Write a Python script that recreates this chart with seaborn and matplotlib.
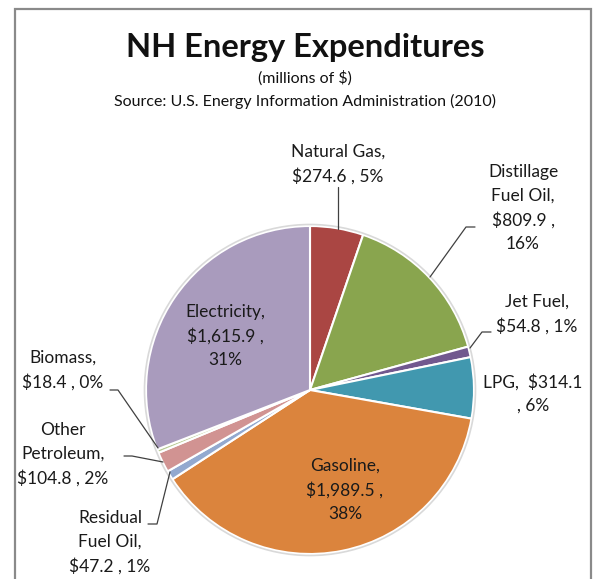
"""
NH Energy Expenditures pie chart (EIA 2010)
"""

import matplotlib
matplotlib.use("Agg")
import matplotlib.pyplot as plt
import seaborn as sns
from matplotlib.patches import Rectangle

sns.set_theme(style="white")
plt.rcParams['font.family'] = ['Lato', 'DejaVu Sans']

# Data (millions of $), clockwise from 12 o'clock
categories = ['Natural Gas', 'Distillage Fuel Oil', 'Jet Fuel', 'LPG', 'Gasoline',
              'Residual Fuel Oil', 'Other Petroleum', 'Biomass', 'Electricity']
values = [274.6, 809.9, 54.8, 314.1, 1989.5, 47.2, 104.8, 18.4, 1615.9]
value_labels = ['$274.6', '$809.9', '$54.8', '$314.1', '$1,989.5',
                '$47.2', '$104.8', '$18.4', '$1,615.9']
pct_labels = ['5%', '16%', '1%', '6%', '38%', '1%', '2%', '0%', '31%']

colors = ['#AA4643', '#89A54E', '#71588F', '#4198AF', '#DB843D',
          '#93A9CF', '#D19392', '#B9CD96', '#A99BBD']

W, H = 595, 579
fig = plt.figure(figsize=(W / 100, H / 100), dpi=100)
ax = fig.add_axes([0, 0, 1, 1])

def Y(y):
    # image pixel row -> axes y
    return H - y

# frame around the chart
fig.patches.append(Rectangle((15, Y(600)), 576, 591, transform=ax.transData,
                             fill=False, edgecolor='#8a8a8a', linewidth=1.6))

# pie
cx, cy, r = 310, 390, 164
ax.pie(values, colors=colors, startangle=90, counterclock=False,
       center=(cx, Y(cy)), radius=r, frame=True,
       wedgeprops=dict(edgecolor='white', linewidth=1.5))
ax.add_patch(plt.Circle((cx, Y(cy)), r + 1.5, fill=False, edgecolor='#d9d9d9', linewidth=1.2))
ax.set_xlim(0, W)
ax.set_ylim(0, H)
ax.axis('off')

# titles
ax.text(305, Y(47), 'NH Energy Expenditures', ha='center', va='center',
        fontsize=23.5, fontweight='bold', color='#111111')
ax.text(305, Y(78), '(millions of $)', ha='center', va='center', fontsize=11.5, color='#111111')
ax.text(305, Y(101), 'Source: U.S. Energy Information Administration (2010)',
        ha='center', va='center', fontsize=11.5, color='#111111')

# label text lines, positions (x, first line y) and leader lines
label_lines = {
    'Natural Gas': ['Natural Gas,', '{v} , {p}'],
    'Distillage Fuel Oil': ['Distillage', 'Fuel Oil,', '{v} ,', '{p}'],
    'Jet Fuel': ['Jet Fuel,', '{v} , {p}'],
    'LPG': ['LPG,  {v}', ', {p}'],
    'Gasoline': ['Gasoline,', '{v} ,', '{p}'],
    'Residual Fuel Oil': ['Residual', 'Fuel Oil,', '{v} , {p}'],
    'Other Petroleum': ['Other', 'Petroleum,', '{v} , {p}'],
    'Biomass': ['Biomass,', '{v} , {p}'],
    'Electricity': ['Electricity,', '{v} ,', '{p}'],
}
label_pos = {
    'Natural Gas': (338, 152),
    'Distillage Fuel Oil': (523, 172),
    'Jet Fuel': (537, 302),
    'LPG': (533, 382),
    'Gasoline': (345, 466),
    'Residual Fuel Oil': (110, 518),
    'Other Petroleum': (63, 430),
    'Biomass': (63, 358),
    'Electricity': (225, 312),
}
leaders = {
    'Natural Gas': [(338, 187), (338, 229)],
    'Distillage Fuel Oil': [(475, 227), (466, 227), (430, 277)],
    'Jet Fuel': [(491, 332), (482, 332), (470, 348)],
    'Biomass': [(110, 390), (118, 390), (158, 448)],
    'Other Petroleum': [(124, 456), (132, 456), (163, 462)],
    'Residual Fuel Oil': [(148, 524), (157, 524), (170, 472)],
}
line_h = 24

for cat, v, p in zip(categories, value_labels, pct_labels):
    x, y0 = label_pos[cat]
    for i, line in enumerate(label_lines[cat]):
        ax.text(x, Y(y0 + i * line_h), line.format(v=v, p=p), ha='center', va='center',
                fontsize=12.5, color='#1a1a1a')
    if cat in leaders:
        pts = leaders[cat]
        ax.plot([q[0] for q in pts], [Y(q[1]) for q in pts], color='#404040', linewidth=0.9)

plt.savefig('out.png', dpi=100)
